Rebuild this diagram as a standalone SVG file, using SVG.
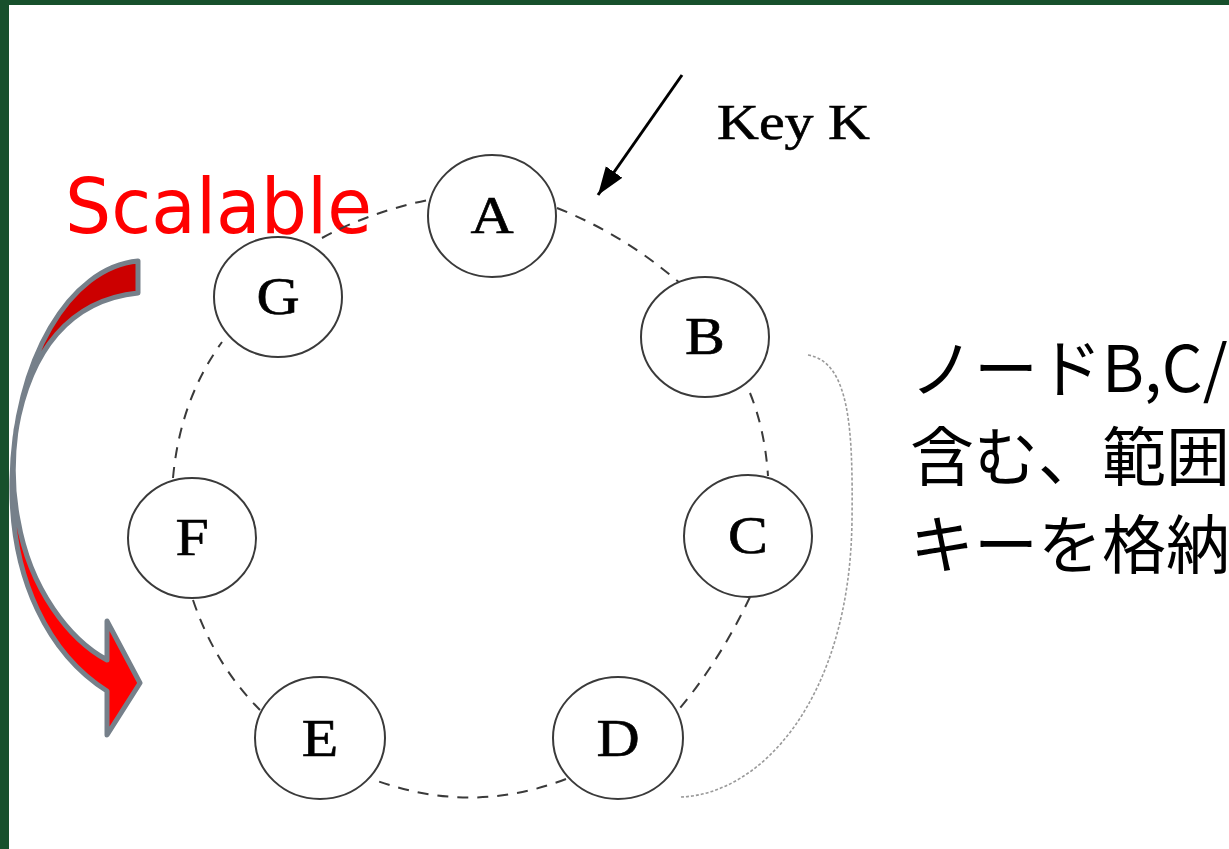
<svg xmlns="http://www.w3.org/2000/svg" width="1229" height="849" viewBox="0 0 1229 849">
<style>
.node ellipse{fill:#fff;stroke:#3a3a3a;stroke-width:2}
.node text{font-family:"Liberation Serif","Times New Roman",serif;font-size:52px;fill:#000;stroke:#000;stroke-width:0.6;text-anchor:middle}
.ring{fill:none;stroke:#3a3a3a;stroke-width:2;stroke-dasharray:11 9}
.jp{font-family:"Noto Sans CJK JP","Noto Sans",sans-serif;font-size:64px;fill:#000}
</style>
<defs>
<linearGradient id="redg" x1="0" y1="0" x2="0" y2="1">
<stop offset="0" stop-color="#cc0000"/>
<stop offset="0.42" stop-color="#cc0000"/>
<stop offset="0.62" stop-color="#ff0000"/>
<stop offset="1" stop-color="#ff0000"/>
</linearGradient>
<marker id="ah" markerUnits="userSpaceOnUse" markerWidth="30" markerHeight="22" refX="28" refY="10" orient="auto">
<path d="M0,0 L28,10 L0,20 z" fill="#000"/>
</marker>
</defs>
<rect width="1229" height="849" fill="#fff"/>
<g id="background">
<rect x="0" y="0" width="1229" height="5" fill="#17502c"/>
<rect x="0" y="0" width="9" height="849" fill="#17502c"/>
</g>
<text id="scalable" x="65" y="233" font-family="DejaVu Sans, Verdana, sans-serif" font-size="77" fill="#ff0000" textLength="307" lengthAdjust="spacingAndGlyphs">Scalable</text>
<g id="curved-arrow">
<path d="M138,261 C70,267 14,360 12,480 C10,580 50,655 107,691 L107,735 L140,683 L107,621 L107,660 C70,640 30,590 18,520 C12,490 12,460 16,430 C30,350 70,300 138,293 Z" fill="url(#redg)" stroke="#76808a" stroke-width="5" stroke-linejoin="round"/>
</g>
<g id="connectors">
<path class="ring" d="M322,238 Q370,212 428,200"/>
<path class="ring" d="M557,208 Q625,235 682,285"/>
<path class="ring" d="M750,393 Q765,430 768,476"/>
<path class="ring" d="M750,597 Q720,660 680,708"/>
<path class="ring" d="M566,779 Q470,816 372,779"/>
<path class="ring" d="M193,600 Q215,665 260,710"/>
<path class="ring" d="M173,478 Q180,400 222,342"/>
<path d="M808,355 C850,362 853,430 852,520 C850,700 760,795 680,797" fill="none" stroke="#9a9a9a" stroke-width="1.6" stroke-dasharray="3 2"/>
<line x1="682" y1="75" x2="598" y2="195" stroke="#000" stroke-width="3" marker-end="url(#ah)"/>
</g>
<g id="node-A" class="node"><ellipse cx="492" cy="216" rx="64" ry="61"/><text transform="translate(492,233) scale(1.15,1)">A</text></g>
<g id="node-B" class="node"><ellipse cx="705" cy="337" rx="64" ry="60"/><text transform="translate(705,354) scale(1.15,1)">B</text></g>
<g id="node-C" class="node"><ellipse cx="748" cy="536" rx="64" ry="61"/><text transform="translate(748,553) scale(1.15,1)">C</text></g>
<g id="node-D" class="node"><ellipse cx="618" cy="738" rx="65" ry="61"/><text transform="translate(618,756) scale(1.15,1)">D</text></g>
<g id="node-E" class="node"><ellipse cx="320" cy="738" rx="65" ry="61"/><text transform="translate(320,756) scale(1.15,1)">E</text></g>
<g id="node-F" class="node"><ellipse cx="192" cy="538" rx="64" ry="60"/><text transform="translate(192,555) scale(1.15,1)">F</text></g>
<g id="node-G" class="node"><ellipse cx="278" cy="297" rx="64" ry="60"/><text transform="translate(278,314) scale(1.15,1)">G</text></g>
<text id="key-k" x="717" y="139" font-family="Liberation Serif, Times New Roman, serif" font-size="50" fill="#000" stroke="#000" stroke-width="0.6" textLength="153" lengthAdjust="spacingAndGlyphs">Key K</text>
<g id="description">
<text class="jp" x="910" y="392">ノードB,C/</text>
<text class="jp" x="910" y="480">含む、範囲</text>
<text class="jp" x="910" y="568">キーを格納</text>
</g>
</svg>
